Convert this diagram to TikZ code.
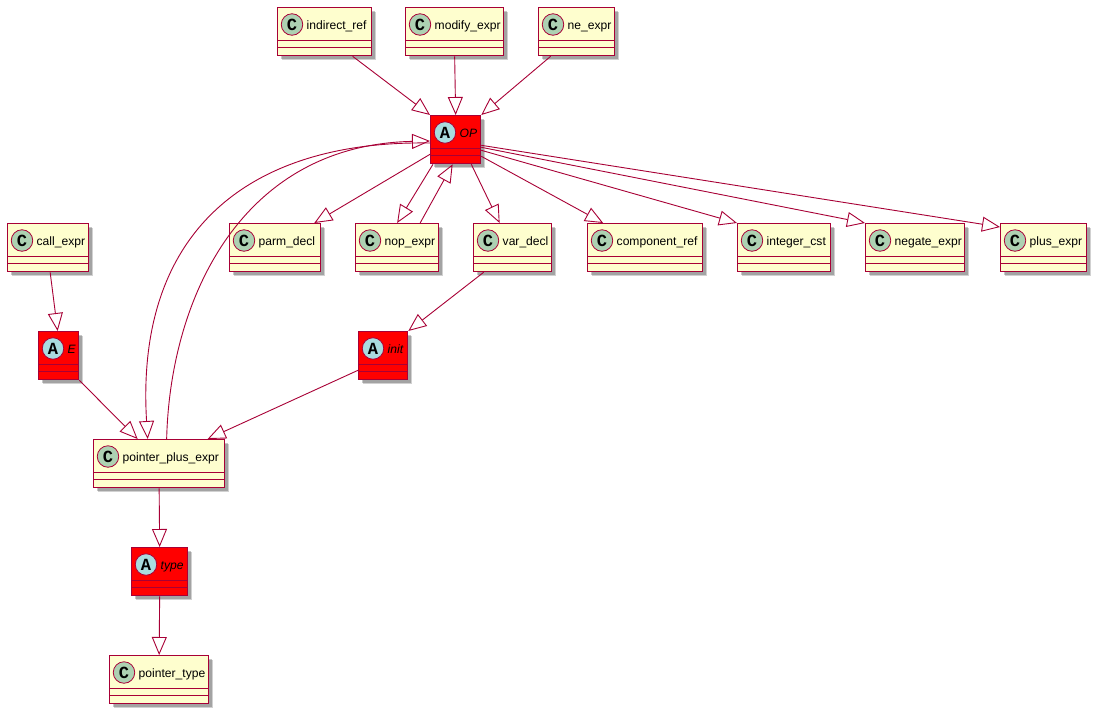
\documentclass[tikz,border=0pt]{standalone}
\usepackage{fontspec}
\setmainfont{Liberation Sans}
\newfontfamily\spotfont{Liberation Mono}
\usetikzlibrary{arrows.meta,shadows}
\definecolor{umlborder}{HTML}{A80036}
\definecolor{classfill}{HTML}{FEFECE}
\definecolor{absfill}{HTML}{FF0000}
\definecolor{cspot}{HTML}{ADD1B2}
\definecolor{aspot}{HTML}{A9DCDF}
\tikzset{
  umlbox/.style={draw=umlborder, line width=1.3pt, inner sep=0pt, minimum height=48pt,
    anchor=north west,
    drop shadow={shadow xshift=4.5pt, shadow yshift=-4.5pt, opacity=0.18, fill=black},
    drop shadow={shadow xshift=3pt, shadow yshift=-3pt, opacity=0.22, fill=black}},
  clsbox/.style={umlbox, fill=classfill},
  absbox/.style={umlbox, fill=absfill},
  spotc/.style={circle, draw=umlborder, line width=0.8pt, minimum size=21.5pt, inner sep=0pt,
    font=\spotfont\bfseries\fontsize{17}{17}\selectfont},
  lbl/.style={anchor=base west, inner sep=0pt, font=\fontsize{12.1}{14}\selectfont},
  sepline/.style={draw=umlborder, line width=1pt},
  ext/.style={draw=umlborder, line width=0.9pt, -{Triangle[open, length=18pt, width=15pt]}},
}
% #1 name, #2 x, #3 y, #4 width, #5 label, #6 box style, #7 spot fill, #8 spot letter
\newcommand\umlentity[8]{%
  \node[#6, minimum width=#4pt] (#1) at (#2,#3) {};
  \draw[sepline] ([yshift=-33pt]#1.north west) -- ([yshift=-33pt]#1.north east);
  \draw[sepline] ([yshift=-40pt]#1.north west) -- ([yshift=-40pt]#1.north east);
  \node[spotc, fill=#7] (#1-spot) at ([xshift=15pt,yshift=-17.5pt]#1.north west) {#8};
  \node[lbl] (#1-name) at ([xshift=29.5pt,yshift=-22pt]#1.north west) {#5};
}
\newcommand\umlclass[5]{\umlentity{#1}{#2}{#3}{#4}{#5}{clsbox}{cspot}{C}}
\newcommand\umlabstract[5]{\umlentity{#1}{#2}{#3}{#4}{\itshape #5}{absbox}{aspot}{A}}
\begin{document}
\begin{tikzpicture}[x=1pt,y=-1pt]
\fill[white] (0,0) rectangle (1104,721);
\useasboundingbox (0,0) rectangle (1104,721);

\umlclass{indirect_ref}{277}{7}{94}{indirect\_ref}
\umlclass{modify_expr}{405}{7}{98}{modify\_expr}
\umlclass{ne_expr}{538}{7}{76}{ne\_expr}
\umlabstract{OP}{430}{115}{50}{OP}

\umlclass{call_expr}{7}{223}{81}{call\_expr}
\umlclass{parm_decl}{229}{223}{91}{parm\_decl}
\umlclass{nop_expr}{355}{223}{83}{nop\_expr}
\umlclass{var_decl}{473}{223}{78}{var\_decl}
\umlclass{component_ref}{587}{223}{115}{component\_ref}
\umlclass{integer_cst}{737}{223}{93}{integer\_cst}
\umlclass{negate_expr}{865}{223}{99}{negate\_expr}
\umlclass{plus_expr}{1000}{223}{86}{plus\_expr}

\umlabstract{E}{38}{331}{40}{E}
\umlabstract{init}{358}{331}{49}{init}
\umlclass{ppe}{93}{439}{131}{pointer\_plus\_expr}
\umlabstract{type}{131}{547}{56}{type}
\umlclass{pointer_type}{109}{655}{99}{pointer\_type}

% connectors
\draw[ext] ([xshift=28pt]indirect_ref.south) -- (OP.north west);
\draw[ext] (modify_expr.south) -- (OP.north);
\draw[ext] ([xshift=-26pt]ne_expr.south) -- (OP.north east);

\draw[ext] ([yshift=10pt]OP.south west) -- ([xshift=-7pt]parm_decl.north east);
\draw[ext] ([xshift=3pt]OP.south west) -- (nop_expr.north);
\draw[ext] ([xshift=23pt]nop_expr.north) -- ([xshift=-3pt]OP.south);
\draw[ext] ([xshift=-10pt]OP.south east) -- ([xshift=-13pt]var_decl.north);
\draw[ext] ([yshift=8pt]OP.south east) -- ([xshift=-42pt]component_ref.north);
\draw[ext] ([yshift=14pt]OP.south east) -- (integer_cst.north west);
\draw[ext] ([yshift=17pt]OP.south east) -- (negate_expr.north west);
\draw[ext] ([yshift=19pt]OP.south east) -- ([yshift=-4pt]plus_expr.north west);

\draw[ext] ([yshift=-28pt]OP.north west) .. controls (250,140) and (135,230) .. ([xshift=-11.5pt]ppe.north);
\draw[ext] ([xshift=7.5pt]ppe.north) .. controls (170,300) and (240,145) .. ([yshift=-26pt]OP.north west);

\draw[ext] ([xshift=2pt]call_expr.south) -- ([xshift=-1pt]E.north);
\draw[ext] (E.south east) -- ([xshift=-21.5pt]ppe.north);
\draw[ext] ([xshift=-29pt]var_decl.south) -- (init.north east);
\draw[ext] ([yshift=10pt]init.south west) -- ([xshift=48.5pt]ppe.north);
\draw[ext] (ppe.south) -- (type.north);
\draw[ext] (type.south) -- (pointer_type.north);
\end{tikzpicture}
\end{document}
